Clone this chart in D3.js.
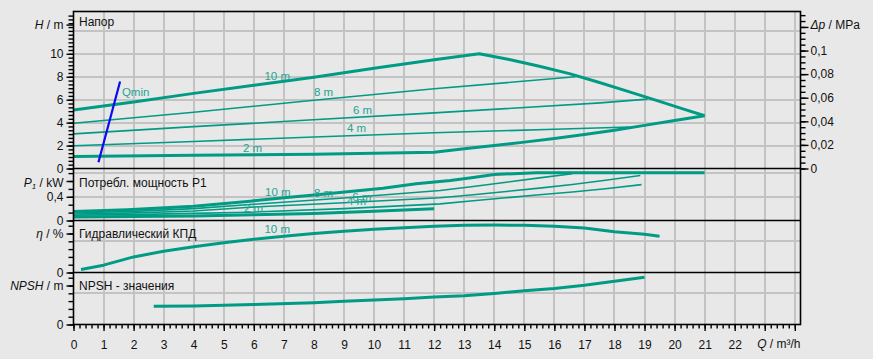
<!DOCTYPE html>
<html><head><meta charset="utf-8">
<script src="https://cdn.jsdelivr.net/npm/d3@7"></script>
<style>
body{margin:0;background:#e8e8e8;}
svg{display:block;font-family:"Liberation Sans",Arial,sans-serif;}
</style>
</head><body>
<svg id="c" width="873" height="359"></svg>
<script>
// ---------- DATA ----------
// Head H (m) vs Q (m³/h)
const h10Q = [0, 2, 4, 6, 8, 10, 12, 13.5, 14.5, 15.5, 16.5, 17.5, 18.5, 19.5, 20.25, 21];
const h10H = [5.1, 5.8, 6.55, 7.25, 7.95, 8.75, 9.48, 10.0, 9.5, 8.92, 8.27, 7.5, 6.68, 5.85, 5.22, 4.6];
const h8Q  = [0, 4, 8, 12, 16.7];
const h8H  = [3.95, 4.9, 5.95, 6.95, 8.0];
const h6Q  = [0, 4, 7.54, 12, 17.53, 19.1];
const h6H  = [3.02, 3.65, 4.18, 4.85, 5.72, 6.05];
const h4Q  = [0, 4, 8, 12, 16, 18.5];
const h4H  = [1.98, 2.35, 2.75, 3.12, 3.42, 3.62];
const h2Q  = [0, 4, 8, 12, 13, 14, 15, 16, 17, 18, 19, 20, 21];
const h2H  = [1.05, 1.15, 1.25, 1.42, 1.72, 2.0, 2.3, 2.62, 2.96, 3.34, 3.76, 4.18, 4.6];
const qminQ = [0.83, 1.55];
const qminH = [0.55, 7.59];

// Power P1 (kW)
const p10Q = [0, 1.78, 4, 5.88, 7, 8.1, 9.2, 10.3, 11.4, 12.54, 13.3, 14, 15.4, 21];
const p10P = [0.15, 0.18, 0.24, 0.326, 0.383, 0.434, 0.49, 0.546, 0.62, 0.675, 0.726, 0.777, 0.805, 0.805];
const p8Q  = [0, 1.78, 4, 5.88, 9, 12.2, 13.3, 14.4, 15.5, 16.6];
const p8P  = [0.13, 0.15, 0.2, 0.27, 0.38, 0.507, 0.574, 0.647, 0.72, 0.79];
const p6Q  = [0, 1.78, 4, 5.88, 9, 12.2, 13.3, 14.4, 15.5, 16.6, 17.7, 18.86];
const p6P  = [0.11, 0.125, 0.16, 0.225, 0.30, 0.384, 0.434, 0.49, 0.546, 0.608, 0.68, 0.76];
const p4Q  = [0, 1.78, 4, 5.88, 9, 12.2, 13.3, 14.4, 15.5, 16.6, 17.7, 18.9];
const p4P  = [0.09, 0.10, 0.12, 0.14, 0.2, 0.28, 0.333, 0.384, 0.434, 0.48, 0.535, 0.605];
const p2Q  = [0, 2, 4, 6, 8, 10, 12];
const p2P  = [0.06, 0.068, 0.078, 0.095, 0.12, 0.155, 0.197];

// Hydraulic efficiency (%)
const etaQ = [0.25, 1, 2, 3, 4, 5, 6, 7, 8, 9, 10, 11, 12, 13, 14, 15, 16, 17, 18, 19, 19.5];
const etaV = [3.8, 9.4, 20, 27.3, 33, 38.2, 42.7, 46.5, 50, 52.9, 55.5, 57.4, 59.4, 60.6, 60.9, 60.6, 59.4, 57.1, 52.3, 49.1, 46.5];

// NPSH (m)
const npshQ = [2.67, 4, 6, 8, 9, 10, 11, 12, 13, 14, 15, 16, 17, 18, 19];
const npshV = [2.35, 2.38, 2.56, 2.8, 2.97, 3.15, 3.3, 3.52, 3.68, 3.97, 4.33, 4.62, 5.04, 5.55, 6.06];

// Tick labels
const qTickLabels = d3.range(0, 23);
const hTickLabels = [0, 2, 4, 6, 8, 10];
const pTickLabels = [0, 0.4];
const dpTickLabels = [0, 0.02, 0.04, 0.06, 0.08, 0.1];

// Curve labels (text, q, value)
const hCurveLabels = [["10 m", 6.78, 8.1], ["8 m", 8.32, 6.65], ["6 m", 9.62, 5.14], ["4 m", 9.42, 3.49], ["2 m", 5.96, 1.83]];
const pCurveLabels = [["10 m", 6.8, 0.478], ["8 m", 8.32, 0.461], ["6 m", 9.59, 0.405], ["4 m", 9.42, 0.326], ["2 m", 5.99, 0.203]];
const etaCurveLabels = [["10 m", 6.78, 56]];

// ---------- DRAW ----------
const svg = d3.select("#c");
const L = 73.5, R = 800.5;
const T = [11.5, 168.5, 220.5, 272.5, 324.5];
const teal = "#009b84", labTeal = "#23a493", grid = "#c3c3c3";

const x = d3.scaleLinear().domain([0, 24.19]).range([L, R]);
const yH = d3.scaleLinear().domain([0, 13.69]).range([T[1], T[0]]);
const yDp = d3.scaleLinear().domain([0, 0.1331]).range([T[1], T[0]]);
const yP = d3.scaleLinear().domain([0, 0.878]).range([T[2], T[1]]);
const yE = d3.scaleLinear().domain([0, 66.7]).range([T[3], T[2]]);
const yN = d3.scaleLinear().domain([0, 6.67]).range([T[4], T[3]]);

const loc = d3.formatLocale({decimal: ",", thousands: " ", grouping: [3], currency: ["", ""]});
const fmt = d => loc.format("~g")(d);

// grid
const gg = svg.append("g").attr("stroke", grid).attr("stroke-width", 2).attr("shape-rendering", "crispEdges");
d3.range(1, 25).forEach(q => gg.append("line").attr("x1", x(q)).attr("x2", x(q)).attr("y1", T[0]).attr("y2", T[4]));
[2, 4, 6, 8, 10, 12].forEach(v => gg.append("line").attr("x1", L).attr("x2", R).attr("y1", yH(v)).attr("y2", yH(v)));
[0.4, 0.8].forEach(v => gg.append("line").attr("x1", L).attr("x2", R).attr("y1", yP(v)).attr("y2", yP(v)));
gg.append("line").attr("x1", L).attr("x2", R).attr("y1", yE(40)).attr("y2", yE(40));
gg.append("line").attr("x1", L).attr("x2", R).attr("y1", yN(4)).attr("y2", yN(4));

// curves
function curve(qs, vs, ys, w, color) {
  svg.append("path").datum(d3.zip(qs, vs))
    .attr("fill", "none").attr("stroke", color || teal).attr("stroke-width", w)
    .attr("stroke-linejoin", "round")
    .attr("d", d3.line().x(d => x(d[0])).y(d => ys(d[1])));
}
curve(h8Q, h8H, yH, 1.6); curve(h6Q, h6H, yH, 1.6); curve(h4Q, h4H, yH, 1.6);
curve(h10Q, h10H, yH, 3); curve(h2Q, h2H, yH, 3);
curve(qminQ, qminH, yH, 2.2, "#0a0af0");
curve(p8Q, p8P, yP, 1.6); curve(p6Q, p6P, yP, 1.6); curve(p4Q, p4P, yP, 1.6);
curve(p10Q, p10P, yP, 3); curve(p2Q, p2P, yP, 3);
curve(etaQ, etaV, yE, 3);
curve(npshQ, npshV, yN, 3);

// curve labels
function labels(arr, ys) {
  arr.forEach(([t, q, v]) => svg.append("text").attr("x", x(q)).attr("y", ys(v))
    .attr("text-anchor", "middle").attr("dominant-baseline", "central")
    .attr("font-size", 11.5).attr("fill", labTeal).text(t));
}
labels(hCurveLabels, yH); labels(pCurveLabels, yP); labels(etaCurveLabels, yE);
svg.append("text").attr("x", x(1.61)).attr("y", yH(6.65)).attr("dominant-baseline", "central")
  .attr("font-size", 11.5).attr("fill", labTeal).text("Qmin");

// frame
const fr = svg.append("g").attr("stroke", "#000").attr("stroke-width", 1.6).attr("fill", "none");
fr.append("rect").attr("x", L).attr("y", T[0]).attr("width", R - L).attr("height", T[4] - T[0]);
[T[1], T[2], T[3]].forEach(y => fr.append("line").attr("x1", L).attr("x2", R).attr("y1", y).attr("y2", y));

// axes helper
function styleAxis(g) {
  g.select(".domain").remove();
  g.selectAll("line").attr("stroke", "#000").attr("stroke-width", 1.4);
  g.selectAll("text").attr("font-size", 12).attr("fill", "#111").attr("font-family", "Liberation Sans, Arial, sans-serif");
}
function leftAxis(scale, minor, major, labelVal, labelNodes, labelY) {
  const g1 = svg.append("g").attr("transform", `translate(${L},0)`)
    .call(d3.axisLeft(scale).tickValues(minor).tickSize(5).tickFormat(""));
  styleAxis(g1);
  const g2 = svg.append("g").attr("transform", `translate(${L},0)`)
    .call(d3.axisLeft(scale).tickValues(major).tickSize(7).tickPadding(3).tickFormat(fmt));
  styleAxis(g2);
  const g3 = svg.append("g").attr("transform", `translate(${L},0)`)
    .call(d3.axisLeft(scale).tickValues([labelVal]).tickSize(7).tickPadding(3).tickFormat(""));
  styleAxis(g3);
  const t = svg.append("text").attr("x", L - 10).attr("y", labelY !== undefined ? labelY : scale(labelVal)).attr("text-anchor", "end")
    .attr("dominant-baseline", "central").attr("font-size", 12).attr("fill", "#111");
  labelNodes.forEach(([s, it, sub]) => {
    const ts = t.append("tspan").text(s);
    if (it) ts.attr("font-style", "italic");
    if (sub) ts.attr("font-size", 8).attr("dy", 3);
  });
  return t;
}
// H
leftAxis(yH, d3.range(0, 41).map(i => i / 3), hTickLabels, 12.55, [["H", true], [" / m", false]]);
// P1
const pt = leftAxis(yP, d3.range(0, 7).map(i => i * 0.4 / 3), pTickLabels, 0.667, [["P", true], ["1", true, true]], 182.5);
pt.append("tspan").attr("dy", -3).text(" / kW");
// eta
leftAxis(yE, d3.range(0, 7).map(i => i * 10), [0], 50, [["η", true], [" / %", false]]);
// NPSH
leftAxis(yN, d3.range(0, 7), [0], 5, [["NPSH", true], [" / m", false]]);

// right axis Δp
const gr1 = svg.append("g").attr("transform", `translate(${R},0)`)
  .call(d3.axisRight(yDp).tickValues(d3.range(0, 27).map(i => i * 0.005)).tickSize(5).tickFormat(""));
styleAxis(gr1);
const gr2 = svg.append("g").attr("transform", `translate(${R},0)`)
  .call(d3.axisRight(yDp).tickValues(dpTickLabels.concat([0.12])).tickSize(8).tickPadding(2)
    .tickFormat(d => d === 0.12 ? "" : fmt(d)));
styleAxis(gr2);
const dpt = svg.append("text").attr("x", R + 10).attr("y", yDp(0.12) - 1.5).attr("dominant-baseline", "central")
  .attr("font-size", 12).attr("fill", "#111");
dpt.append("tspan").attr("font-style", "italic").text("Δp");
dpt.append("tspan").text(" / MPa");

// bottom axis
const gb1 = svg.append("g").attr("transform", `translate(0,${T[4]})`)
  .call(d3.axisBottom(x).tickValues(d3.range(0, 121).map(i => i * 0.2)).tickSize(4).tickFormat(""));
styleAxis(gb1);
const gb2 = svg.append("g").attr("transform", `translate(0,${T[4]})`)
  .call(d3.axisBottom(x).tickValues(d3.range(0, 25)).tickSize(6.5).tickPadding(9)
    .tickFormat(d => qTickLabels.includes(d) ? fmt(d) : ""));
styleAxis(gb2);
const qt = svg.append("text").attr("x", R).attr("y", 344).attr("text-anchor", "end")
  .attr("dominant-baseline", "central").attr("font-size", 12).attr("fill", "#111");
qt.append("tspan").attr("font-style", "italic").text("Q");
qt.append("tspan").text(" / m³/h");

// panel titles
[["Напор", T[0] + 10], ["Потребл. мощность P1", T[1] + 14], ["Гидравлический КПД", T[2] + 13], ["NPSH - значения", T[3] + 13]]
  .forEach(([t, y]) => svg.append("text").attr("x", 79).attr("y", y).attr("dominant-baseline", "central")
    .attr("font-size", 12).attr("fill", "#111").text(t));
</script>
</body></html>
